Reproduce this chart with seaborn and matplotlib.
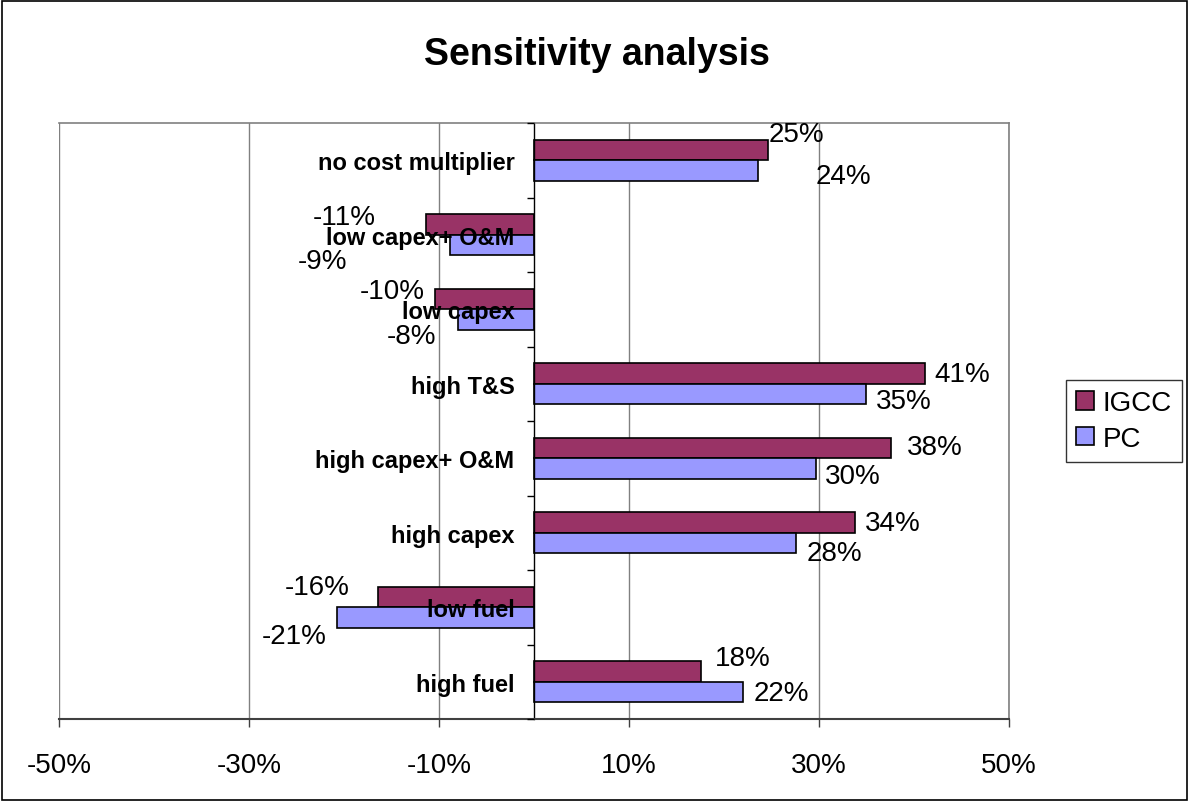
import matplotlib
matplotlib.use("Agg")
import matplotlib.pyplot as plt
import matplotlib.patches as mpatches
import numpy as np
import pandas as pd
import seaborn as sns

# Sensitivity cases, listed top to bottom
cases = ["no cost multiplier", "low capex+ O&M", "low capex", "high T&S",
         "high capex+ O&M", "high capex", "low fuel", "high fuel"]
series = ["IGCC", "PC"]

# Change versus base case, in percent
igcc = [24.6, -11.4, -10.4, 41.2, 37.6, 33.8, -16.4, 17.6]
pc = [23.6, -8.8, -8.0, 34.9, 29.7, 27.6, -20.7, 22.0]

x_ticks = [-50, -30, -10, 10, 30, 50]

# Data-label nudges (pixels, right / down) from the end of each bar
igcc_label_nudge = [(29, -16), (-81, -8), (-43, -8), (37, 0),
                    (44, -1), (38, 0), (-61, -10), (42, -14)]
pc_label_nudge = [(85, 6), (-128, 16), (-46, 17), (38, 7),
                  (37, 8), (38, 10), (-43, 19), (38, 1)]

colors = {"IGCC": "#993366", "PC": "#9999FF"}

df = pd.DataFrame({
    "case": cases * 2,
    "series": ["IGCC"] * len(cases) + ["PC"] * len(cases),
    "value": igcc + pc,
})

sns.set_theme(style="white")
plt.rcParams["font.family"] = ["Liberation Sans", "DejaVu Sans"]
for key in ("text.color", "axes.labelcolor", "xtick.color", "ytick.color"):
    plt.rcParams[key] = "black"

W, H = 1189, 803
fig = plt.figure(figsize=(W / 100, H / 100), dpi=100)
fig.patch.set_facecolor("white")
ax = fig.add_axes([59 / W, 1 - 720 / H, (1009 - 59) / W, (720 - 124) / H])

sns.barplot(data=df, x="value", y="case", hue="series", order=cases,
            hue_order=series, palette=colors, orient="h", width=0.55,
            edgecolor="black", linewidth=1.2, saturation=1, ax=ax)

ax.set_xlim(-50, 50)
ax.set_ylim(len(cases) - 0.5, -0.5)
ax.set_xlabel("")
ax.set_ylabel("")

# vertical gridlines behind the bars; axis text stays on top of the bars
ax.grid(False)
ax.set_axisbelow(False)
for t in x_ticks:
    ax.axvline(t, color="#808080", linewidth=1.0, zorder=0.5)
ax.set_xticks(x_ticks)
ax.set_xticklabels([f"{t}%" for t in x_ticks], fontsize=20)

# category axis sits at zero
ax.spines["left"].set_position(("data", 0))
ax.spines["left"].set_color("black")
ax.spines["left"].set_linewidth(1.0)
for s in ("top", "right"):
    ax.spines[s].set_color("#808080")
    ax.spines[s].set_linewidth(1.2)
ax.spines["bottom"].set_color("#404040")
ax.spines["bottom"].set_linewidth(1.5)

ax.tick_params(axis="x", which="major", direction="out", length=6,
               width=1, color="#404040", pad=18, labelsize=20,
               labelcolor="black", bottom=True)
ax.set_yticks(range(len(cases)))
ax.set_yticklabels(cases, fontsize=17, fontweight="bold", color="black")
ax.set_yticks(np.arange(-0.5, len(cases), 1), minor=True)
ax.tick_params(axis="y", which="major", length=0, pad=14, left=True)
ax.tick_params(axis="y", which="minor", direction="out", length=5,
               width=1, color="black", left=True)

# value labels
for container, nudges in zip(ax.containers, [igcc_label_nudge, pc_label_nudge]):
    for patch, (dx, dy) in zip(container.patches, nudges):
        val = patch.get_x() + patch.get_width()
        yc = patch.get_y() + patch.get_height() / 2
        ax.annotate(f"{val:.0f}%", xy=(val, yc), xytext=(dx, -dy),
                    textcoords="offset pixels", ha="center", va="center",
                    fontsize=20, color="black", zorder=6,
                    annotation_clip=False)

# legend on the right
handles, labels = ax.get_legend_handles_labels()
if ax.get_legend() is not None:
    ax.get_legend().remove()
leg = fig.legend(handles, labels, loc="center",
                 bbox_to_anchor=(1124 / W, 1 - 422 / H), fontsize=20,
                 frameon=True, fancybox=False, edgecolor="black",
                 handlelength=0.65, handleheight=0.65, handletextpad=0.3,
                 labelspacing=0.35, borderpad=0.38)
leg.get_frame().set_linewidth(1.0)

fig.text(0.502, 1 - 55 / H, "Sensitivity analysis", ha="center",
         va="center", fontsize=27, fontweight="bold", color="black")

# outer chart border
fig.patches.append(mpatches.Rectangle((2 / W, 2 / H), 1 - 4 / W, 1 - 4 / H,
                                      transform=fig.transFigure, fill=False,
                                      edgecolor="black", linewidth=1.2))

fig.savefig("out.png", dpi=100)
